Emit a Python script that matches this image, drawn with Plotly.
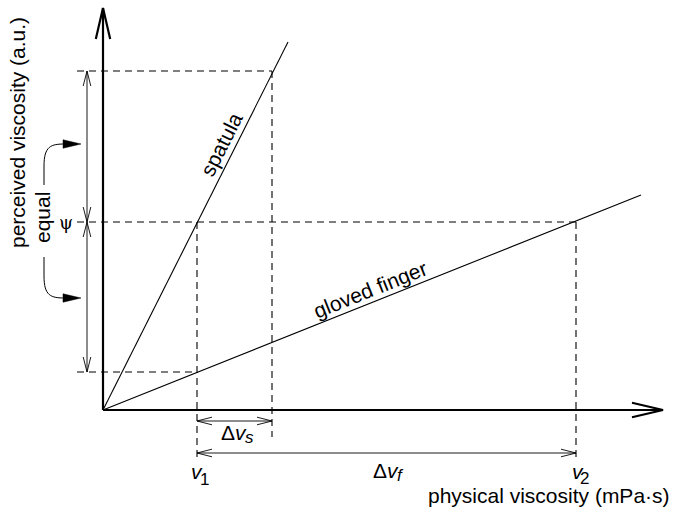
import plotly.graph_objs as go

# chart values (arbitrary units, origin at the axes crossing)
axis_end = [56.0, 40.2]            # x axis end, y axis end
spatula_end = [18.5, 36.8]          # end point of the spatula line
finger_end = [53.8, 21.5]           # end point of the gloved finger line
v_marks = [9.4, 16.9, 47.3]         # v1, v1 + dv_s, v2
psi_marks = [3.8, 18.8, 33.9]       # psi - d, psi, psi + d

FONT = 'Liberation Sans'
BLACK = '#000000'


def head(tip, direction, length, half):
    # open V arrow head, returns x, y lists with a gap at the end
    dx, dy = direction
    n = (dx * dx + dy * dy) ** 0.5
    dx, dy = dx / n, dy / n
    bx, by = tip[0] - dx * length, tip[1] - dy * length
    px, py = -dy * half, dx * half
    return ([bx + px, tip[0], bx - px, None], [by + py, tip[1], by - py, None])


def seg(xs, ys, x0, y0, x1, y1):
    xs += [x0, x1, None]
    ys += [y0, y1, None]


fig = go.Figure()

# axes with arrow heads
ax_x, ax_y = [], []
seg(ax_x, ax_y, 0, 0, axis_end[0], 0)
seg(ax_x, ax_y, 0, 0, 0, axis_end[1])
for tip, d in [((axis_end[0], 0), (1, 0)), ((0, axis_end[1]), (0, 1))]:
    hx, hy = head(tip, d, 3.1, 0.72)
    ax_x += hx
    ax_y += hy
fig.add_trace(go.Scatter(x=ax_x, y=ax_y, mode='lines', line=dict(color=BLACK, width=2.2),
                         hoverinfo='skip', showlegend=False))

# the two response lines
fig.add_trace(go.Scatter(x=[0, spatula_end[0]], y=[0, spatula_end[1]], mode='lines',
                         line=dict(color=BLACK, width=1.1), showlegend=False))
fig.add_trace(go.Scatter(x=[0, finger_end[0]], y=[0, finger_end[1]], mode='lines',
                         line=dict(color=BLACK, width=1.1), showlegend=False))

# dashed guide lines
v1, vs, v2 = v_marks
lo, psi, hi = psi_marks
d_x, d_y = [], []
seg(d_x, d_y, -2.6, hi, vs, hi)
seg(d_x, d_y, -2.6, psi, v2, psi)
seg(d_x, d_y, -2.6, lo, v1, lo)
seg(d_x, d_y, v1, psi, v1, -4.8)
seg(d_x, d_y, vs, hi, vs, -2.7)
seg(d_x, d_y, v2, psi, v2, -4.8)
fig.add_trace(go.Scatter(x=d_x, y=d_y, mode='lines',
                         line=dict(color=BLACK, width=1.1, dash='7px,5px'),
                         hoverinfo='skip', showlegend=False))

# dimension arrows
a_x, a_y = [], []
dims = [((-1.6, hi), (-1.6, psi)), ((-1.6, psi), (-1.6, lo)),
        ((v1, -1.1), (vs, -1.1)), ((v1, -4.3), (v2, -4.3))]
for p0, p1 in dims:
    seg(a_x, a_y, p0[0], p0[1], p1[0], p1[1])
    for tip, other in [(p0, p1), (p1, p0)]:
        hx, hy = head(tip, (tip[0] - other[0], tip[1] - other[1]), 1.5, 0.38)
        a_x += hx
        a_y += hy
fig.add_trace(go.Scatter(x=a_x, y=a_y, mode='lines', line=dict(color=BLACK, width=0.9),
                         hoverinfo='skip', showlegend=False))

# curved "equal" arrows
shapes = []
for y0, y_tip, s in [(22.5, 26.6, 1), (15.3, 11.2, -1)]:
    shapes.append(dict(type='path', xref='x', yref='y', line=dict(color=BLACK, width=1),
                       path=f'M -5.9,{y0} L -5.9,{y_tip - s * 2.2} '
                            f'C -5.9,{y_tip - s * 0.2} -5.2,{y_tip} -3.8,{y_tip}'))
    shapes.append(dict(type='path', xref='x', yref='y', fillcolor=BLACK,
                       line=dict(color=BLACK, width=0.5),
                       path=f'M -2.2,{y_tip} L -4.0,{y_tip + 0.42} L -4.0,{y_tip - 0.42} Z'))

ann = []


def label(x, y, text, size=21, angle=0, xanchor='center', family=FONT):
    ann.append(dict(x=x, y=y, xref='x', yref='y', text=text, showarrow=False,
                    textangle=angle, xanchor=xanchor, yanchor='middle', borderpad=0,
                    font=dict(family=family, size=size, color=BLACK)))


label(11.8, 26.6, 'spatula', angle=-63.3)
label(26.7, 12.1, 'gloved finger', angle=-21.8)
label(-6.1, 19.2, 'equal', angle=-90)
label(-3.7, psi, 'ψ', family='DejaVu Serif', size=18)
label(-8.6, 27.7, 'perceived viscosity (a.u.)', angle=-90)
label(56.8, -8.5, 'physical viscosity (mPa·s)', xanchor='right')

# symbols with large subscripts, as in the original drawing
label(9.35, -6.15, '<i>v</i>')
label(10.15, -6.9, '1', size=17)
label(47.45, -6.15, '<i>v</i>')
label(48.1, -6.8, '2', size=17)
label(13.1, -2.2, 'Δ<i>v</i>')
label(14.65, -2.75, '<i>s</i>', size=17)
label(28.25, -6.0, 'Δ<i>v</i>')
label(29.75, -6.5, '<i>f</i>', size=17)

fig.update_layout(
    width=674, height=508,
    margin=dict(l=0, r=0, t=0, b=0),
    paper_bgcolor='white', plot_bgcolor='white',
    xaxis=dict(range=[-10.3, 57.1], visible=False),
    yaxis=dict(range=[-9.8, 41.0], visible=False),
    shapes=shapes, annotations=ann,
)

# page has a default body margin; drop it so the figure sits at the top-left corner
fig.write_html("out.html", config={'displayModeBar': False},
               post_script="document.body.style.margin = '0';")
